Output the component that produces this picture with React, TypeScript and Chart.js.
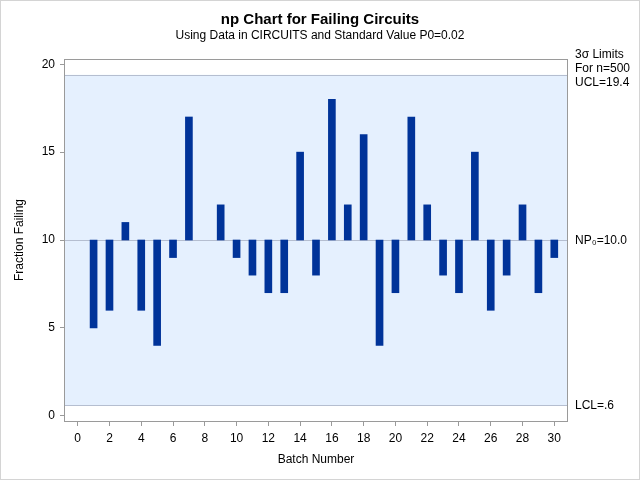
import React, { useEffect, useRef } from "react";
import { Chart, registerables } from "chart.js";

Chart.register(...registerables);

const batches = [1, 2, 3, 4, 5, 6, 7, 8, 9, 10, 11, 12, 13, 14, 15, 16, 17, 18, 19, 20, 21, 22, 23, 24, 25, 26, 27, 28, 29, 30];
const failing = [5, 6, 11, 6, 4, 9, 17, 10, 12, 9, 8, 7, 7, 15, 8, 18, 12, 16, 4, 7, 17, 12, 8, 7, 15, 6, 8, 12, 7, 9];
const centerValue = 10.0;
const uclValue = 19.4;
const lclValue = 0.6;
const yTickValues = [0, 5, 10, 15, 20];
const xTickValues = [0, 2, 4, 6, 8, 10, 12, 14, 16, 18, 20, 22, 24, 26, 28, 30];

const title = "np Chart for Failing Circuits";
const subtitle = "Using Data in CIRCUITS and Standard Value P0=0.02";
const xTitle = "Batch Number";
const yTitle = "Fraction Failing";
const limitHeader1 = "3\u03C3 Limits";
const limitHeader2 = "For n=500";
const uclText = "UCL=19.4";
const centerText = "NP\u2080=10.0";
const lclText = "LCL=.6";

const FONT = "'Liberation Sans', Arial, sans-serif";
const BAR_COLOR = "#003399";

const decorPlugin = {
  id: "decor",
  beforeDatasetsDraw(chart: any) {
    const { ctx, chartArea: a, scales } = chart;
    const y = scales.y;
    const yU = y.getPixelForValue(uclValue);
    const yL = y.getPixelForValue(lclValue);
    const yC = y.getPixelForValue(centerValue);
    ctx.save();
    ctx.fillStyle = "#E5F0FE";
    ctx.fillRect(a.left, yU, a.right - a.left, yL - yU);
    ctx.strokeStyle = "#B5BED0";
    ctx.lineWidth = 1;
    [yU, yC, yL].forEach((py) => {
      const p = Math.round(py) + 0.5;
      ctx.beginPath();
      ctx.moveTo(a.left, p);
      ctx.lineTo(a.right, p);
      ctx.stroke();
    });
    ctx.restore();
  },
  afterDraw(chart: any) {
    const { ctx, chartArea: a, scales } = chart;
    const y = scales.y;
    ctx.save();
    // plot frame
    ctx.strokeStyle = "#9A9A9A";
    ctx.lineWidth = 1;
    ctx.strokeRect(Math.round(a.left) - 0.5, Math.round(a.top) + 0.5, Math.round(a.right - a.left) + 1, Math.round(a.bottom - a.top));
    // outer border
    ctx.strokeStyle = "#D4D4D4";
    ctx.strokeRect(0.5, 0.5, 639, 479);
    // titles
    ctx.fillStyle = "#000";
    ctx.textAlign = "center";
    ctx.textBaseline = "middle";
    ctx.font = `bold 15px ${FONT}`;
    ctx.fillText(title, 320, 20);
    ctx.font = `12px ${FONT}`;
    ctx.fillText(subtitle, 320, 36);
    // axis titles
    ctx.fillText(xTitle, (a.left + a.right) / 2, 460);
    ctx.save();
    ctx.translate(20, (a.top + a.bottom) / 2);
    ctx.rotate(-Math.PI / 2);
    ctx.fillText(yTitle, 0, 0);
    ctx.restore();
    // limit labels
    ctx.textAlign = "left";
    const lx = a.right + 8;
    ctx.fillText(limitHeader1, lx, 55);
    ctx.fillText(limitHeader2, lx, 69);
    ctx.fillText(uclText, lx, 83);
    ctx.fillText(centerText, lx, y.getPixelForValue(centerValue) + 1);
    ctx.fillText(lclText, lx, y.getPixelForValue(lclValue) + 1);
    ctx.restore();
  },
};

export default function App() {
  const ref = useRef<HTMLCanvasElement>(null);
  useEffect(() => {
    document.body.style.margin = "0";
    const canvas = ref.current!;
    const chart = new Chart(canvas, {
      type: "bar",
      data: {
        datasets: [
          {
            data: batches.map((b, i) => ({ x: b, y: [centerValue, failing[i]] })) as any,
            backgroundColor: failing.map((v) => (v === centerValue ? "rgba(0,0,0,0)" : BAR_COLOR)),
            borderWidth: 0,
            barThickness: 7,
          },
        ],
      },
      options: {
        responsive: false,
        animation: false,
        layout: { padding: { left: 0, top: 59, right: 73, bottom: 0 } },
        plugins: { legend: { display: false }, tooltip: { enabled: false }, title: { display: false } },
        scales: {
          x: {
            type: "linear",
            min: -0.8,
            max: 30.8,
            offset: false,
            afterBuildTicks: (s: any) => {
              s.ticks = xTickValues.map((v) => ({ value: v }));
            },
            afterFit: (s: any) => {
              s.height = 59;
            },
            grid: { display: true, offset: false, drawOnChartArea: false, drawTicks: true, tickLength: 5, color: "#9A9A9A" },
            border: { display: false },
            ticks: { font: { family: FONT, size: 12 }, color: "#000", padding: 5, maxRotation: 0, autoSkip: false },
          },
          y: {
            type: "linear",
            min: -0.3,
            max: 20.3,
            afterBuildTicks: (s: any) => {
              s.ticks = yTickValues.map((v) => ({ value: v }));
            },
            afterFit: (s: any) => {
              s.width = 65;
            },
            grid: { display: true, drawOnChartArea: false, drawTicks: true, tickLength: 5, color: "#9A9A9A" },
            border: { display: false },
            ticks: { font: { family: FONT, size: 12 }, color: "#000", padding: 5 },
          },
        },
      },
      plugins: [decorPlugin],
    });
    return () => chart.destroy();
  }, []);
  return (
    <div style={{ width: 640, height: 480 }}>
      <canvas ref={ref} width={640} height={480} style={{ display: "block" }} />
    </div>
  );
}
